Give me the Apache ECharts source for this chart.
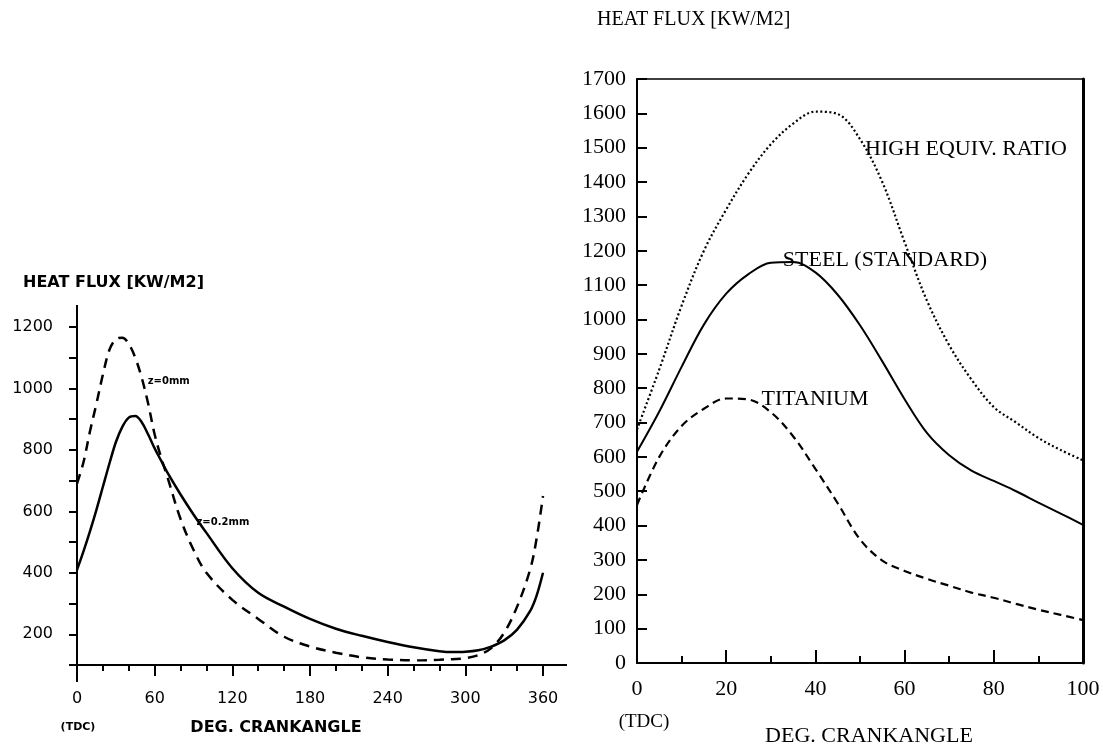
<!DOCTYPE html>
<html>
<head>
<meta charset="utf-8">
<script src="https://cdn.jsdelivr.net/npm/echarts@6/dist/echarts.min.js"></script>
<style>
  html, body { margin: 0; padding: 0; background: #fff; }
  #chart { width: 1103px; height: 744px; }
</style>
</head>
<body>
<div id="chart"></div>
<script>
// ---- Left panel: wall heat flux over a full cycle, two depths ----
const leftAngles = [0, 5, 10, 15, 20, 25, 30, 35, 40, 45, 50, 55, 60, 65, 70, 80, 90, 100,
  120, 140, 160, 180, 200, 220, 240, 260, 280, 290, 300, 310, 320, 330, 340, 350, 355, 360];
// z = 0 mm (dashed)
const fluxSurface = [690, 760, 860, 950, 1045, 1125, 1160, 1165, 1145, 1100, 1035, 950, 850, 775, 710, 575, 475, 400,
  312, 250, 192, 160, 140, 125, 118, 115, 117, 119, 122, 132, 155, 205, 290, 410, 510, 650];
// z = 0.2 mm (solid)
const fluxDepth = [410, 470, 535, 605, 680, 755, 825, 875, 905, 910, 890, 850, 805, 765, 725, 655, 590, 530,
  415, 335, 290, 250, 218, 195, 175, 158, 145, 142, 143, 148, 160, 180, 215, 275, 325, 400];
const leftXTicks = { min: 0, max: 360, step: 60 };
const leftYTicks = { min: 100, max: 1200, step: 100, labelStep: 200 };

// ---- Right panel: first 100 degrees after TDC, three cases ----
const rightAngles = [0, 5, 10, 15, 20, 25, 30, 35, 40, 45, 50, 55, 60, 65, 70, 75, 80, 85, 90, 95, 100];
const fluxHighEquiv = [680, 855, 1040, 1200, 1320, 1425, 1510, 1570, 1605, 1598, 1525, 1400, 1225, 1055, 925, 825, 745, 700, 655, 620, 590];
const fluxSteel = [615, 732, 862, 985, 1075, 1132, 1165, 1167, 1137, 1072, 983, 878, 768, 670, 605, 560, 530, 500, 467, 435, 402];
const fluxTitanium = [460, 600, 690, 740, 770, 767, 730, 660, 565, 465, 360, 298, 268, 245, 225, 205, 190, 172, 155, 140, 125];
const rightXTicks = { min: 0, max: 100, step: 20 };
const rightYTicks = { min: 0, max: 1700, step: 100 };

const SANS = '"DejaVu Sans", sans-serif';
const SERIF = '"Liberation Serif", "DejaVu Serif", serif';

// Builds [x, y] points; the point at labelAt carries the curve's caption.
function pairs(xs, ys, labelAt, labelOpt) {
  return xs.map((x, i) => {
    if (x === labelAt) {
      return { value: [x, ys[i]], label: Object.assign({ show: true }, labelOpt) };
    }
    return [x, ys[i]];
  });
}

const chart = echarts.init(document.getElementById('chart'), null, { renderer: 'canvas' });

const blackLine = (w) => ({ color: '#000', width: w });
const plain = (v) => String(v);

const option = {
  animation: false,
  backgroundColor: '#fff',
  grid: [
    { left: 77, right: 560, top: 327, bottom: 79, containLabel: false, outerBoundsMode: 'none' },
    { left: 637, right: 20, top: 79, bottom: 81, containLabel: false, outerBoundsMode: 'none' }
  ],
  xAxis: [
    {
      gridIndex: 0, type: 'value',
      min: leftXTicks.min, max: leftXTicks.max, interval: leftXTicks.step,
      axisLine: { onZero: false, lineStyle: blackLine(2), symbol: ['none', 'rect'], symbolSize: [2, 24], symbolOffset: [0, 12] },
      axisTick: { length: 11, lineStyle: blackLine(2) },
      minorTick: { show: true, splitNumber: 3, length: 6, lineStyle: blackLine(2) },
      axisLabel: { margin: 26, color: '#000', fontFamily: SANS, fontSize: 16, formatter: plain },
      splitLine: { show: false }
    },
    {
      gridIndex: 1, type: 'value', position: 'bottom',
      min: rightXTicks.min, max: rightXTicks.max, interval: rightXTicks.step,
      axisLine: { onZero: false, lineStyle: blackLine(2) },
      axisTick: { inside: true, length: 13, lineStyle: blackLine(2) },
      minorTick: { show: true, splitNumber: 2, length: 7, lineStyle: blackLine(2) },
      axisLabel: { margin: 15, color: '#000', fontFamily: SERIF, fontSize: 22, formatter: plain },
      splitLine: { show: false },
      name: 'DEG. CRANKANGLE', nameLocation: 'middle', nameGap: 62,
      nameTextStyle: { color: '#000', fontFamily: SERIF, fontSize: 22, padding: [0, 0, 0, 18] }
    },
    {
      gridIndex: 1, type: 'value', position: 'top',
      min: rightXTicks.min, max: rightXTicks.max,
      axisLine: { onZero: false, lineStyle: blackLine(1.5) },
      axisTick: { show: false }, axisLabel: { show: false }, splitLine: { show: false }
    }
  ],
  yAxis: [
    {
      gridIndex: 0, type: 'value',
      min: leftYTicks.min, max: leftYTicks.max, interval: leftYTicks.step,
      axisLine: { show: true, lineStyle: blackLine(2), symbol: ['rect', 'rect'], symbolSize: [2, 22], symbolOffset: [-6, 11] },
      axisTick: { show: true, length: 8, lineStyle: blackLine(2) },
      axisLabel: {
        margin: 24, color: '#000', fontFamily: SANS, fontSize: 16,
        formatter: (v) => (v % leftYTicks.labelStep === 0 ? String(v) : '')
      },
      splitLine: { show: false }
    },
    {
      gridIndex: 1, type: 'value', position: 'left',
      min: rightYTicks.min, max: rightYTicks.max, interval: rightYTicks.step,
      axisLine: { show: true, onZero: false, lineStyle: blackLine(2) },
      axisTick: { show: true, inside: true, length: 10, lineStyle: blackLine(2) },
      axisLabel: { margin: 11, color: '#000', fontFamily: SERIF, fontSize: 22, formatter: plain },
      splitLine: { show: false }
    },
    {
      gridIndex: 1, type: 'value', position: 'right',
      min: rightYTicks.min, max: rightYTicks.max,
      axisLine: { show: true, onZero: false, lineStyle: blackLine(3) },
      axisTick: { show: false }, axisLabel: { show: false }, splitLine: { show: false }
    }
  ],
  series: [
    {
      name: 'z=0mm', type: 'line', xAxisIndex: 0, yAxisIndex: 0, smooth: 0.35,
      symbol: 'circle', symbolSize: 0.1, showSymbol: true,
      lineStyle: { color: '#000', width: 2.5, type: [10, 7] },
      itemStyle: { color: 'rgba(0,0,0,0)' },
      data: pairs(leftAngles, fluxSurface, 50, {
        formatter: 'z=0mm', position: 'right', distance: 6, offset: [0, 4],
        color: '#000', fontFamily: SANS, fontSize: 10, fontWeight: 'bold'
      })
    },
    {
      name: 'z=0.2mm', type: 'line', xAxisIndex: 0, yAxisIndex: 0, smooth: 0.35,
      symbol: 'circle', symbolSize: 0.1, showSymbol: true,
      lineStyle: { color: '#000', width: 2.5 },
      itemStyle: { color: 'rgba(0,0,0,0)' },
      data: pairs(leftAngles, fluxDepth, 90, {
        formatter: 'z=0.2mm', position: 'right', distance: 3, offset: [0, 8],
        color: '#000', fontFamily: SANS, fontSize: 10, fontWeight: 'bold'
      })
    },
    {
      name: 'HIGH EQUIV. RATIO', type: 'line', xAxisIndex: 1, yAxisIndex: 1, smooth: 0.35,
      symbol: 'circle', symbolSize: 0.1, showSymbol: true,
      lineStyle: { color: '#000', width: 2.2, type: [2, 2.5] },
      itemStyle: { color: 'rgba(0,0,0,0)' },
      data: pairs(rightAngles, fluxHighEquiv, 50, {
        formatter: 'HIGH EQUIV. RATIO', position: 'right', distance: 5, offset: [0, 10],
        color: '#000', fontFamily: SERIF, fontSize: 22
      })
    },
    {
      name: 'STEEL (STANDARD)', type: 'line', xAxisIndex: 1, yAxisIndex: 1, smooth: 0.35,
      symbol: 'circle', symbolSize: 0.1, showSymbol: true,
      lineStyle: { color: '#000', width: 2 },
      itemStyle: { color: 'rgba(0,0,0,0)' },
      data: pairs(rightAngles, fluxSteel, 30, {
        formatter: 'STEEL (STANDARD)', position: 'right', distance: 12, offset: [0, -3],
        color: '#000', fontFamily: SERIF, fontSize: 22
      })
    },
    {
      name: 'TITANIUM', type: 'line', xAxisIndex: 1, yAxisIndex: 1, smooth: 0.35,
      symbol: 'circle', symbolSize: 0.1, showSymbol: true,
      lineStyle: { color: '#000', width: 2.2, type: [8, 5] },
      itemStyle: { color: 'rgba(0,0,0,0)' },
      data: pairs(rightAngles, fluxTitanium, 25, {
        formatter: 'TITANIUM', position: 'right', distance: 13, offset: [0, 0],
        color: '#000', fontFamily: SERIF, fontSize: 22
      })
    }
  ],
  graphic: [
    { type: 'text', left: 23, top: 275,
      style: { text: 'HEAT FLUX [KW/M2]', fill: '#000', font: 'bold 16px ' + SANS } },
    { type: 'text', x: 78, y: 727,
      style: { text: '(TDC)', fill: '#000', font: 'bold 11px ' + SANS, align: 'center', verticalAlign: 'middle' } },
    { type: 'text', x: 276, y: 728,
      style: { text: 'DEG. CRANKANGLE', fill: '#000', font: 'bold 16px ' + SANS, align: 'center', verticalAlign: 'middle' } },
    { type: 'text', x: 597, y: 20,
      style: { text: 'HEAT FLUX [KW/M2]', fill: '#000', font: '20px ' + SERIF, verticalAlign: 'middle' } },
    { type: 'text', x: 644, y: 722,
      style: { text: '(TDC)', fill: '#000', font: '19px ' + SERIF, align: 'center', verticalAlign: 'middle' } }
  ]
};

chart.setOption(option);
</script>
</body>
</html>
